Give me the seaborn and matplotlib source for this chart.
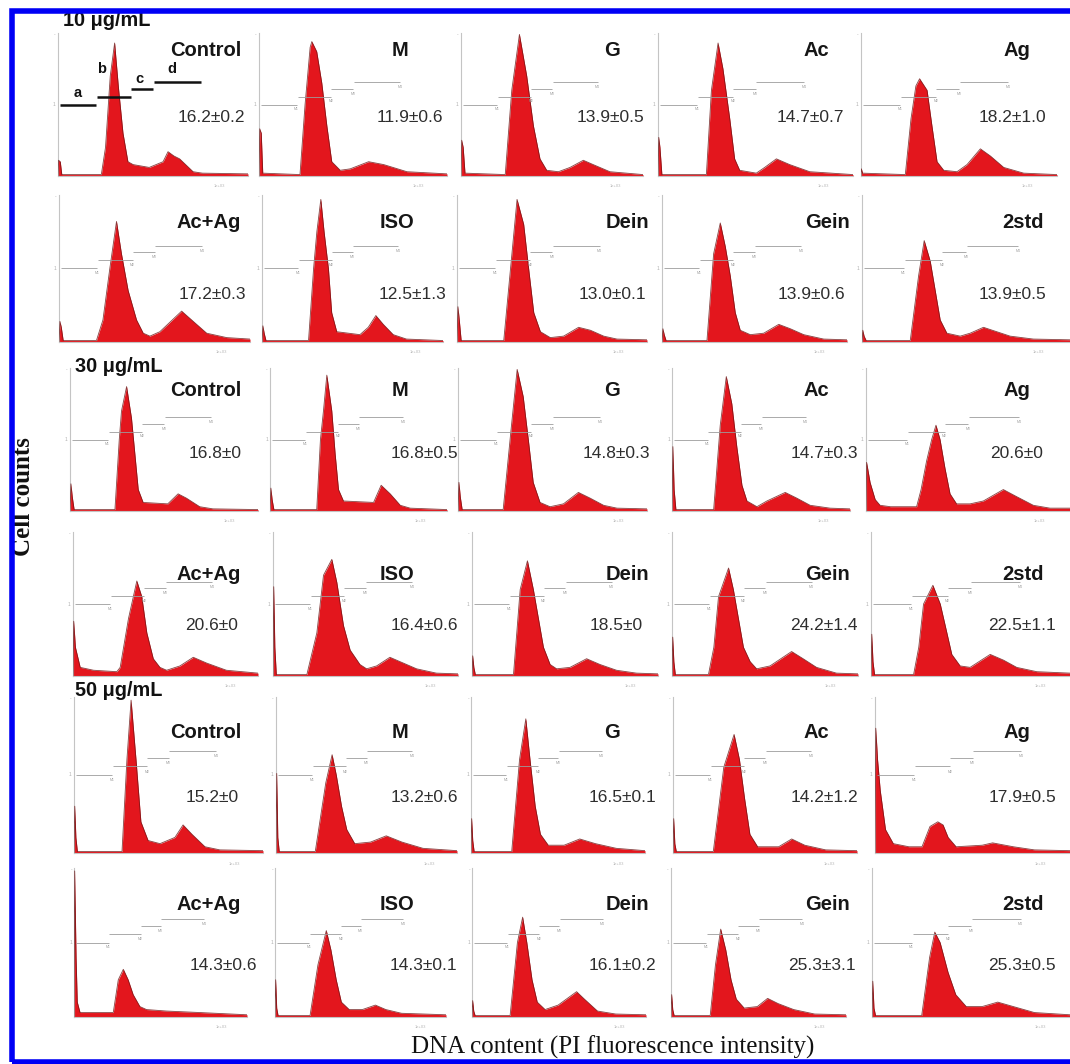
import matplotlib
matplotlib.use("Agg")
import matplotlib.pyplot as plt
import seaborn as sns
from matplotlib.patches import Rectangle

sns.set_style("white")
plt.rcParams['font.family'] = ['Liberation Sans', 'DejaVu Sans']

# ---- labels -------------------------------------------------------------
doses = ["10 \u03bcg/mL", "30 \u03bcg/mL", "50 \u03bcg/mL"]
groups_a = ["Control", "M", "G", "Ac", "Ag"]
groups_b = ["Ac+Ag", "ISO", "Dein", "Gein", "2std"]

# sub-G1 (%) mean±sd written in each panel, one list per row
vals_10a = ["16.2\u00b10.2", "11.9\u00b10.6", "13.9\u00b10.5", "14.7\u00b10.7", "18.2\u00b11.0"]
vals_10b = ["17.2\u00b10.3", "12.5\u00b11.3", "13.0\u00b10.1", "13.9\u00b10.6", "13.9\u00b10.5"]
vals_30a = ["16.8\u00b10", "16.8\u00b10.5", "14.8\u00b10.3", "14.7\u00b10.3", "20.6\u00b10"]
vals_30b = ["20.6\u00b10", "16.4\u00b10.6", "18.5\u00b10", "24.2\u00b11.4", "22.5\u00b11.1"]
vals_50a = ["15.2\u00b10", "13.2\u00b10.6", "16.5\u00b10.1", "14.2\u00b11.2", "17.9\u00b10.5"]
vals_50b = ["14.3\u00b10.6", "14.3\u00b10.1", "16.1\u00b10.2", "25.3\u00b13.1", "25.3\u00b10.5"]

# ---- histogram outlines -------------------------------------------------
# (channel 0-1000, counts as fraction of the axis height)
control_10 = [(0,0),(3,0.11),(12,0.10),(20,0.01),(228,0.01),(250,0.2),(275,0.7),(298,0.93),(318,0.62),(342,0.3),(368,0.1),(395,0.08),(480,0.06),(553,0.1),(579,0.17),(610,0.14),(640,0.12),(711,0.03),(760,0.02),(1000,0.015)]
m_10 = [(0,0),(4,0.33),(12,0.3),(20,0.02),(218,0.01),(245,0.5),(272,0.9),(281,0.94),(307,0.87),(334,0.65),(361,0.35),(387,0.1),(432,0.04),(485,0.05),(583,0.10),(663,0.08),(787,0.03),(1000,0.015)]
g_10 = [(0,0),(4,0.25),(12,0.2),(22,0.02),(243,0.01),(279,0.6),(321,0.99),(361,0.7),(398,0.35),(434,0.12),(471,0.04),(535,0.03),(599,0.06),(672,0.11),(726,0.08),(818,0.03),(1000,0.01)]
ac_10 = [(0,0),(4,0.27),(10,0.2),(20,0.01),(248,0.01),(274,0.6),(308,0.93),(333,0.75),(368,0.4),(393,0.12),(419,0.04),(504,0.02),(547,0.06),(607,0.12),(675,0.08),(778,0.03),(1000,0.01)]
ag_10 = [(0,0),(2,0.05),(8,0.02),(226,0.01),(255,0.4),(280,0.63),(299,0.68),(337,0.6),(362,0.35),(388,0.1),(422,0.04),(490,0.03),(541,0.08),(609,0.19),(660,0.14),(728,0.06),(830,0.02),(1000,0.01)]

acag_10 = [(0,0),(5,0.14),(12,0.1),(22,0.01),(196,0.01),(230,0.15),(266,0.5),(301,0.82),(327,0.6),(362,0.35),(406,0.15),(441,0.06),(476,0.04),(528,0.07),(642,0.21),(703,0.14),(773,0.06),(878,0.03),(1000,0.02)]
iso_10 = [(0,0),(5,0.11),(12,0.06),(22,0.01),(257,0.01),(285,0.5),(303,0.75),(325,0.97),(343,0.75),(367,0.5),(385,0.2),(413,0.07),(541,0.05),(587,0.1),(629,0.18),(670,0.12),(725,0.05),(798,0.02),(1000,0.01)]
dein_10 = [(0,0),(5,0.24),(12,0.15),(22,0.01),(246,0.01),(289,0.6),(316,0.97),(351,0.8),(377,0.5),(404,0.2),(439,0.07),(491,0.03),(561,0.04),(640,0.10),(702,0.08),(772,0.04),(842,0.02),(1000,0.015)]
gein_10 = [(0,0),(5,0.09),(12,0.05),(22,0.01),(243,0.01),(279,0.6),(315,0.81),(342,0.65),(369,0.45),(396,0.2),(423,0.08),(477,0.05),(550,0.06),(631,0.12),(694,0.09),(766,0.05),(874,0.02),(1000,0.015)]
std2_10 = [(0,0),(4,0.08),(10,0.04),(20,0.01),(232,0.01),(272,0.45),(299,0.69),(328,0.55),(352,0.35),(376,0.15),(408,0.06),(472,0.04),(520,0.06),(584,0.10),(648,0.07),(712,0.04),(824,0.02),(1000,0.015)]

control_30 = [(0,0),(5,0.19),(12,0.1),(22,0.01),(239,0.01),(262,0.5),(274,0.7),(301,0.87),(327,0.65),(345,0.4),(363,0.15),(389,0.06),(520,0.05),(575,0.12),(619,0.09),(690,0.03),(760,0.015),(1000,0.01)]
m_30 = [(0,0),(5,0.16),(12,0.08),(22,0.01),(264,0.01),(285,0.5),(302,0.7),(321,0.95),(349,0.7),(368,0.4),(387,0.15),(415,0.07),(585,0.06),(628,0.18),(679,0.12),(736,0.04),(792,0.02),(1000,0.01)]
g_30 = [(0,0),(5,0.2),(12,0.1),(22,0.01),(239,0.01),(283,0.6),(313,0.99),(345,0.8),(372,0.5),(398,0.2),(434,0.06),(487,0.03),(558,0.05),(637,0.13),(699,0.09),(770,0.04),(841,0.02),(1000,0.015)]
ac_30 = [(0,0),(5,0.45),(12,0.15),(22,0.01),(234,0.01),(271,0.6),(305,0.94),(336,0.75),(364,0.45),(393,0.18),(421,0.07),(477,0.03),(533,0.07),(636,0.13),(701,0.09),(776,0.04),(888,0.02),(1000,0.015)]
ag_30 = [(0,0),(3,0.34),(20,0.2),(45,0.08),(69,0.04),(120,0.03),(248,0.03),(270,0.15),(297,0.35),(322,0.5),(343,0.6),(363,0.5),(387,0.3),(412,0.12),(444,0.05),(510,0.05),(575,0.07),(673,0.15),(739,0.1),(820,0.04),(902,0.02),(1000,0.02)]

acag_30 = [(0,0),(4,0.38),(13,0.2),(39,0.06),(111,0.04),(237,0.03),(255,0.06),(300,0.4),(345,0.66),(372,0.55),(399,0.3),(434,0.12),(470,0.06),(506,0.04),(578,0.07),(650,0.13),(722,0.09),(829,0.04),(1000,0.02)]
iso_30 = [(0,0),(4,0.62),(10,0.2),(18,0.01),(183,0.01),(237,0.3),(273,0.7),(318,0.81),(345,0.65),(381,0.35),(417,0.18),(470,0.08),(506,0.05),(560,0.07),(632,0.13),(704,0.09),(776,0.05),(883,0.02),(1000,0.015)]
dein_30 = [(0,0),(4,0.14),(10,0.06),(18,0.01),(223,0.01),(259,0.6),(298,0.8),(330,0.6),(357,0.4),(384,0.2),(420,0.08),(455,0.05),(527,0.06),(616,0.12),(688,0.08),(777,0.04),(884,0.02),(1000,0.015)]
gein_30 = [(0,0),(4,0.27),(10,0.1),(18,0.01),(196,0.01),(225,0.2),(250,0.55),(304,0.75),(330,0.6),(357,0.4),(384,0.2),(420,0.1),(455,0.05),(527,0.07),(643,0.17),(705,0.12),(777,0.06),(884,0.02),(1000,0.015)]
std2_30 = [(0,0),(4,0.29),(10,0.1),(18,0.01),(214,0.01),(240,0.2),(264,0.5),(311,0.63),(348,0.5),(373,0.35),(406,0.15),(448,0.07),(498,0.06),(599,0.15),(666,0.11),(732,0.06),(833,0.03),(1000,0.02)]

control_50 = [(0,0),(4,0.3),(10,0.1),(18,0.01),(254,0.01),(280,0.6),(302,0.98),(328,0.6),(354,0.2),(392,0.08),(455,0.06),(534,0.1),(577,0.18),(624,0.12),(693,0.04),(772,0.02),(1000,0.015)]
m_50 = [(0,0),(4,0.51),(10,0.1),(18,0.01),(217,0.01),(275,0.45),(310,0.63),(333,0.5),(362,0.3),(391,0.15),(435,0.06),(522,0.07),(609,0.11),(696,0.07),(812,0.03),(1000,0.015)]
g_50 = [(0,0),(4,0.22),(10,0.08),(18,0.01),(234,0.01),(279,0.6),(315,0.86),(339,0.6),(369,0.3),(399,0.12),(444,0.05),(535,0.05),(625,0.09),(715,0.06),(835,0.03),(1000,0.015)]
ac_50 = [(0,0),(4,0.22),(10,0.06),(18,0.01),(219,0.01),(276,0.55),(332,0.76),(361,0.6),(389,0.35),(418,0.12),(460,0.04),(574,0.04),(645,0.09),(716,0.05),(830,0.02),(1000,0.015)]
ag_50 = [(0,0),(4,0.8),(13,0.6),(27,0.4),(54,0.15),(94,0.06),(174,0.04),(241,0.04),(282,0.17),(322,0.2),(349,0.18),(375,0.1),(416,0.04),(550,0.05),(603,0.065),(710,0.04),(818,0.02),(1000,0.015)]

acag_50 = [(0,0),(4,0.98),(12,0.4),(19,0.1),(35,0.03),(227,0.03),(256,0.25),(285,0.32),(313,0.25),(342,0.15),(381,0.07),(419,0.05),(535,0.04),(727,0.03),(1000,0.015)]
iso_50 = [(0,0),(4,0.25),(10,0.06),(18,0.01),(205,0.01),(251,0.35),(300,0.58),(327,0.45),(358,0.25),(388,0.1),(434,0.05),(511,0.05),(587,0.08),(648,0.05),(740,0.025),(1000,0.015)]
dein_50 = [(0,0),(4,0.11),(10,0.04),(18,0.01),(219,0.01),(261,0.5),(291,0.67),(315,0.5),(345,0.25),(375,0.1),(420,0.05),(495,0.08),(601,0.17),(646,0.12),(721,0.04),(826,0.02),(1000,0.015)]
gein_50 = [(0,0),(4,0.15),(10,0.05),(18,0.01),(224,0.01),(254,0.35),(284,0.59),(313,0.45),(343,0.25),(373,0.12),(418,0.06),(493,0.07),(552,0.125),(612,0.09),(701,0.05),(821,0.02),(1000,0.015)]
std2_50 = [(0,0),(4,0.24),(10,0.06),(18,0.01),(251,0.01),(291,0.4),(317,0.57),(344,0.5),(384,0.3),(423,0.15),(476,0.07),(556,0.07),(635,0.1),(714,0.07),(820,0.03),(1000,0.015)]

# marker gates a-d (channel start, end, level)
gate_lo = [10, 205, 385, 505]
gate_hi = [200, 385, 500, 750]
gate_lvl = [0.50, 0.555, 0.61, 0.655]
gate_names = ["a", "b", "c", "d"]

rows = [
    (groups_a, vals_10a, [control_10, m_10, g_10, ac_10, ag_10]),
    (groups_b, vals_10b, [acag_10, iso_10, dein_10, gein_10, std2_10]),
    (groups_a, vals_30a, [control_30, m_30, g_30, ac_30, ag_30]),
    (groups_b, vals_30b, [acag_30, iso_30, dein_30, gein_30, std2_30]),
    (groups_a, vals_50a, [control_50, m_50, g_50, ac_50, ag_50]),
    (groups_b, vals_50b, [acag_50, iso_50, dein_50, gein_50, std2_50]),
]

# ---- layout (pixels of the 1070 x 1064 picture) -------------------------
W, H = 1070, 1064
row_top = [33, 195, 368, 532, 697, 868]
row_bot = [176, 342, 511, 676, 853, 1017]
col_left = [[58, 259, 461, 658, 861], [59, 262, 457, 662, 862], [70, 270, 458, 672, 866],
            [73, 273, 472, 672, 871], [74, 276, 471, 673, 875], [74, 275, 472, 671, 872]]
col_right = [[248, 447, 643, 853, 1057], [250, 443, 647, 847, 1070], [258, 447, 647, 850, 1070],
             [258, 458, 658, 858, 1070], [263, 457, 645, 857, 1070], [247, 446, 646, 846, 1070]]
title_y = [50, 222, 391, 575, 732, 904]
value_y = [118, 294, 453, 625, 798, 966]
title_x = [[206, 400, 612, 816, 1017], [209, 397, 627, 827, 1023]]
value_x = [[211, 410, 610, 810, 1012], [212, 412, 612, 811, 1012], [215, 424, 616, 824, 1017],
           [212, 424, 616, 824, 1022], [212, 424, 622, 824, 1022], [223, 423, 622, 822, 1022]]
dose_xy = [(63, 21), (75, 367), (75, 690)]

RED = "#e3161d"
EDGE = "#6b1414"
AXIS = "#c4c4c4"
GATE = "#9c9c9c"

fig = plt.figure(figsize=(W / 100, H / 100), dpi=100)


def fx(px):
    return px / W


def fy(py):
    return 1 - py / H


for r, (names, vals, hists) in enumerate(rows):
    for c in range(5):
        x0, x1 = col_left[r][c], col_right[r][c]
        ax = fig.add_axes([fx(x0), fy(row_bot[r]), (x1 - x0) / W, (row_bot[r] - row_top[r]) / H])
        pts = hists[c]
        xs = [p[0] for p in pts]
        ys = [p[1] for p in pts]
        ax.fill_between(xs, ys, color=RED, lw=0, zorder=2)
        sns.lineplot(x=xs, y=ys, ax=ax, color=EDGE, lw=0.6, alpha=0.8,
                     estimator=None, zorder=3)
        ax.set_xlim(0, 1000)
        ax.set_ylim(0, 1)
        ax.set_xticks([])
        ax.set_yticks([])
        for s in ["top", "right"]:
            ax.spines[s].set_visible(False)
        for s in ["left", "bottom"]:
            ax.spines[s].set_color(AXIS)
            ax.spines[s].set_linewidth(0.8)
        ax.patch.set_alpha(0)
        # faint tick labels of the cytometer software
        ax.text(-12, 0.5, "1", fontsize=3.5, color="#b0b0b0", ha="right", va="center")
        ax.text(-12, 0.99, "-", fontsize=3.5, color="#b0b0b0", ha="right", va="center")
        ax.text(850, -0.07, "1e+03", fontsize=3, color="#b8b8b8", ha="center", va="center",
                clip_on=False)
        if r == 0 and c == 0:
            ax.hlines(gate_lvl, gate_lo, gate_hi, color="#111111", lw=1.8, zorder=4)
            lab_pos = [(105, 0.58), (230, 0.75), (430, 0.68), (600, 0.75)]
            for (lx, ly), g in zip(lab_pos, gate_names):
                ax.text(lx, ly, g, fontsize=10.5, fontweight="bold", color="#111111",
                        ha="center", va="center")
        else:
            ax.hlines(gate_lvl, gate_lo, gate_hi, color=GATE, lw=0.6, zorder=4)
            for k in range(4):
                ax.text(gate_hi[k], gate_lvl[k] - 0.02, "M%d" % (k + 1), fontsize=2.5,
                        color="#a0a0a0", ha="center", va="top")

        fig.text(fx(title_x[r % 2][c]), fy(title_y[r]), names[c], fontsize=14.5,
                 fontweight="bold", color="#161616", ha="center", va="center")
        fig.text(fx(value_x[r][c]), fy(value_y[r]), vals[c], fontsize=12.5,
                 color="#2e2e2e", ha="center", va="center")

for d, (dx, dy) in zip(doses, dose_xy):
    fig.text(fx(dx), fy(dy), d, fontsize=14.3, fontweight="bold", color="#111111",
             ha="left", va="center")

fig.text(fx(24), fy(497), "Cell counts", rotation=90, fontsize=18, fontweight="bold",
         family=["Liberation Serif", "DejaVu Serif"], color="#111111",
         ha="center", va="center")
fig.text(fx(613), fy(1036), "DNA content (PI fluorescence intensity)", fontsize=18,
         family=["Liberation Serif", "DejaVu Serif"], color="#111111",
         ha="center", va="top")

border = Rectangle((fx(12), fy(1062)), 1.2, fy(10.5) - fy(1062), transform=fig.transFigure,
                   fill=False, edgecolor="#0000f5", lw=4.0, zorder=20)
fig.add_artist(border)

fig.savefig("out.png", dpi=100)
